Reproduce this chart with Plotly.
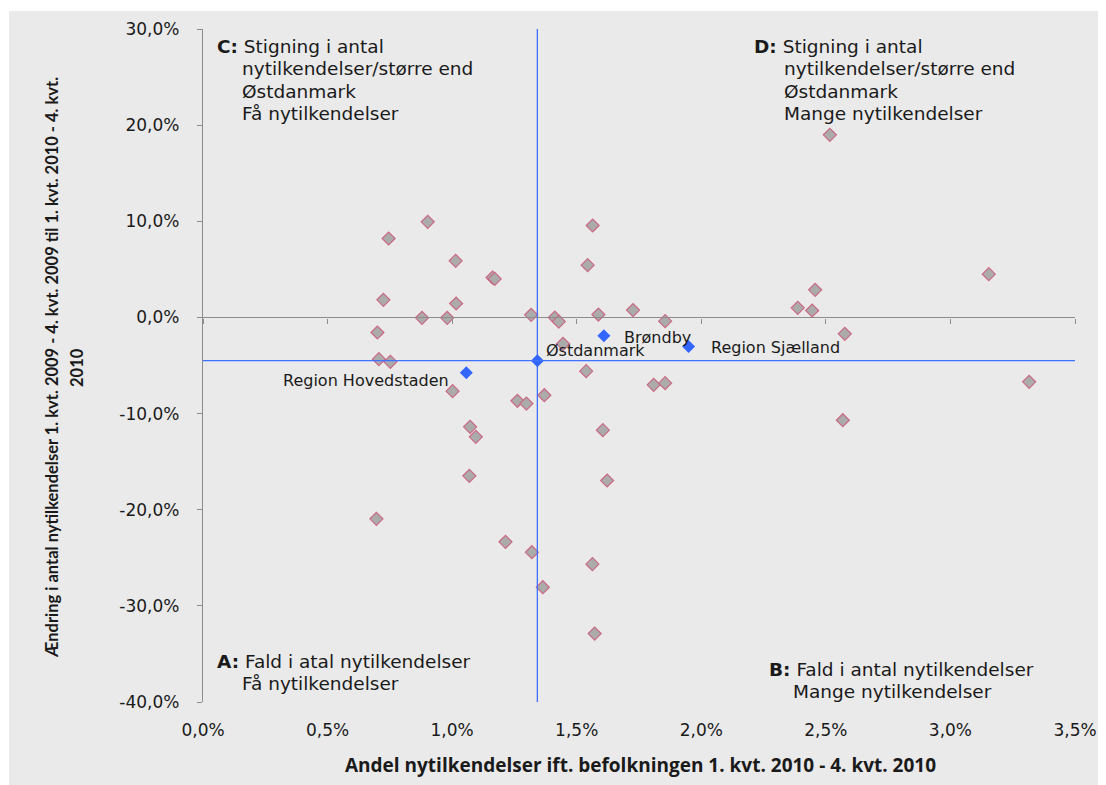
import plotly.graph_objects as go

# ---------------- data ----------------
x_tick_vals = [0.0, 0.5, 1.0, 1.5, 2.0, 2.5, 3.0, 3.5]
x_tick_text = ["0,0%", "0,5%", "1,0%", "1,5%", "2,0%", "2,5%", "3,0%", "3,5%"]
y_tick_vals = [-40, -30, -20, -10, 0, 10, 20, 30]
y_tick_text = ["-40,0%", "-30,0%", "-20,0%", "-10,0%", "0,0%", "10,0%", "20,0%", "30,0%"]

# kommuner: andel nytilkendelser (%) and ændring (%)
kommune_andel = [0.902, 0.745, 1.014, 1.162, 1.171, 0.724, 1.016, 0.879, 0.980, 1.317,
                 1.412, 1.428, 1.587, 1.726, 1.564, 1.544, 0.700, 0.706, 0.752, 1.445,
                 1.002, 1.262, 1.298, 1.370, 1.538, 1.072, 1.095, 1.605, 1.069, 0.696,
                 1.214, 1.320, 1.364, 1.563, 1.572, 1.622, 2.516, 1.855, 2.387, 2.445,
                 2.457, 2.576, 1.809, 1.855, 3.154, 3.316, 2.568]
kommune_aendring = [9.94, 8.21, 5.89, 4.15, 4.01, 1.83, 1.45, -0.04, -0.04, 0.27,
                    -0.01, -0.43, 0.30, 0.76, 9.56, 5.44, -1.57, -4.34, -4.62, -2.75,
                    -7.67, -8.67, -8.96, -8.09, -5.59, -11.38, -12.42, -11.73, -16.48, -20.95,
                    -23.34, -24.42, -28.06, -25.66, -32.88, -16.96, 18.99, -0.39, 1.00, 0.72,
                    2.87, -1.71, -7.01, -6.84, 4.50, -6.70, -10.69]

region_navne = ["Østdanmark", "Region Hovedstaden", "Brøndby", "Region Sjælland"]
region_andel = [1.342, 1.057, 1.609, 1.949]
region_aendring = [-4.50, -5.76, -1.91, -3.03]

x_title = "Andel nytilkendelser ift. befolkningen 1. kvt. 2010 - 4. kvt. 2010"
y_title_1 = "Ændring i antal nytilkendelser 1. kvt. 2009 - 4. kvt. 2009 til 1. kvt. 2010 - 4. kvt."
y_title_2 = "2010"

quad_C = ["C:", "Stigning i antal", "nytilkendelser/større end", "Østdanmark", "Få nytilkendelser"]
quad_D = ["D:", "Stigning i antal", "nytilkendelser/større end", "Østdanmark", "Mange nytilkendelser"]
quad_A = ["A:", "Fald i atal nytilkendelser", "Få nytilkendelser"]
quad_B = ["B:", "Fald i antal nytilkendelser", "Mange nytilkendelser"]

# ---------------- layout geometry / style ----------------
W, H = 1106, 785
OFF = 8                      # page body margin
L, R, T, B = 203, 1075, 29, 702   # plot area in page pixels
ML, MR, MT, MB = L - OFF, W - (R - OFF), T - OFF, H - (B - OFF)

BG = "#EAEAEA"
AXIS = "#8C8C8C"
TXT = "#1A1A1A"
GRAY_FILL = "#ABABAB"
PINK = "#CB6A85"
BLUE_LINE = "#4070FF"
BLUE_MARK = "#3366FF"
TICK_FONT = dict(family="DejaVu Sans", size=17, color=TXT)
LABEL_FONT = dict(family="DejaVu Sans", size=16, color=TXT)
QUAD_FONT = "DejaVu Sans"
QUAD_SIZE = 18.5


def px_x(px):
    return (px - L) / (R - L)


def px_y(py):
    return (B - py) / (B - T)


x_lo, x_hi = x_tick_vals[0], x_tick_vals[-1]
y_lo, y_hi = y_tick_vals[0], y_tick_vals[-1]
ost_x, ost_y = region_andel[0], region_aendring[0]

fig = go.Figure()

# gray kommune markers
fig.add_trace(go.Scatter(
    x=kommune_andel, y=kommune_aendring, mode="markers",
    marker=dict(symbol="diamond", size=10, color=GRAY_FILL,
                line=dict(color=PINK, width=1.2)),
    showlegend=False, hoverinfo="x+y"))

# reference lines through Østdanmark
fig.add_trace(go.Scatter(
    x=[x_lo, x_hi], y=[ost_y, ost_y], mode="lines", xaxis="x2",
    line=dict(color=BLUE_LINE, width=1.3), showlegend=False, hoverinfo="skip"))
fig.add_trace(go.Scatter(
    x=[ost_x, ost_x], y=[y_lo, y_hi], mode="lines",
    line=dict(color=BLUE_LINE, width=1.3), showlegend=False, hoverinfo="skip"))

# blue region markers
fig.add_trace(go.Scatter(
    x=region_andel, y=region_aendring, mode="markers",
    marker=dict(symbol="diamond", size=10, color=BLUE_MARK, line=dict(width=0)),
    text=region_navne, showlegend=False, hoverinfo="text+x+y"))

annotations = []

# data labels
label_style = {
    "Østdanmark": dict(xanchor="left", xshift=7, yshift=10),
    "Region Hovedstaden": dict(xanchor="right", xshift=-15, yshift=-8),
    "Brøndby": dict(xanchor="left", xshift=18, yshift=-2),
    "Region Sjælland": dict(xanchor="left", xshift=20, yshift=-1),
}
for name, xv, yv in zip(region_navne, region_andel, region_aendring):
    st = label_style[name]
    annotations.append(dict(x=xv, y=yv, xref="x", yref="y", text=name, showarrow=False,
                            font=LABEL_FONT, yanchor="middle", **st))


def quad_block(lines, x_head, x_indent, y_first, step=22.2, size=QUAD_SIZE):
    out = [dict(x=px_x(x_head), y=px_y(y_first), xref="paper", yref="paper",
                text="<b>" + lines[0] + "</b> " + lines[1], showarrow=False,
                xanchor="left", yanchor="middle", borderpad=0, borderwidth=0,
                font=dict(family=QUAD_FONT, size=size, color=TXT))]
    for i, ln in enumerate(lines[2:]):
        out.append(dict(x=px_x(x_indent), y=px_y(y_first + step * (i + 1)),
                        xref="paper", yref="paper", text=ln, showarrow=False,
                        xanchor="left", yanchor="middle", borderpad=0, borderwidth=0,
                        font=dict(family=QUAD_FONT, size=size, color=TXT)))
    return out


annotations += quad_block(quad_C, 217, 242, 46.7)
annotations += quad_block(quad_D, 754, 784, 46.7)
annotations += quad_block(quad_A, 217, 242, 661.7)
annotations += quad_block(quad_B, 769, 793, 669.3)

# axis titles
annotations.append(dict(x=px_x(640), y=px_y(765), xref="paper", yref="paper",
                        text="<b>" + x_title + "</b>", showarrow=False,
                        xanchor="center", yanchor="middle",
                        font=dict(family="Open Sans", size=19, color=TXT)))
annotations.append(dict(x=px_x(52), y=px_y(368), xref="paper", yref="paper",
                        text="<b>" + y_title_1 + "</b>", showarrow=False, textangle=-90,
                        xanchor="center", yanchor="middle",
                        font=dict(family="Lato", size=16.5, color=TXT)))
annotations.append(dict(x=px_x(77), y=px_y(368), xref="paper", yref="paper",
                        text="<b>" + y_title_2 + "</b>", showarrow=False, textangle=-90,
                        xanchor="center", yanchor="middle",
                        font=dict(family="Lato", size=16.5, color=TXT)))

# thin white edge strips (page px 0-9 left, 0-11 top)
shapes = [
    dict(type="rect", xref="paper", yref="paper", x0=px_x(0), x1=px_x(9),
         y0=px_y(H + 20), y1=px_y(0), fillcolor="white", line=dict(width=0), layer="above"),
    dict(type="rect", xref="paper", yref="paper", x0=px_x(0), x1=px_x(W + 20),
         y0=px_y(11), y1=px_y(0), fillcolor="white", line=dict(width=0), layer="above"),
]

fig.update_layout(
    width=W, height=H,
    margin=dict(l=ML, r=MR, t=MT, b=MB, pad=0),
    paper_bgcolor=BG, plot_bgcolor=BG,
    showlegend=False,
    annotations=annotations,
    shapes=shapes,
    xaxis=dict(range=[x_lo, x_hi], tickmode="array", tickvals=x_tick_vals, ticktext=x_tick_text,
               showline=False, ticks="", showgrid=False, zeroline=False,
               tickfont=TICK_FONT, ticklabelstandoff=16, fixedrange=True),
    xaxis2=dict(range=[x_lo, x_hi], overlaying="x", anchor="free",
                position=(0 - y_lo) / (y_hi - y_lo),
                tickmode="array", tickvals=x_tick_vals, showticklabels=False,
                ticks="outside", ticklen=5, tickcolor=AXIS, tickwidth=1.3,
                showline=True, linecolor=AXIS, linewidth=1.3,
                showgrid=False, zeroline=False, fixedrange=True),
    yaxis=dict(range=[y_lo, y_hi], tickmode="array", tickvals=y_tick_vals, ticktext=y_tick_text,
               showline=True, linecolor=AXIS, linewidth=1.3,
               ticks="outside", ticklen=5, tickcolor=AXIS, tickwidth=1.3,
               showgrid=False, zeroline=False, tickfont=TICK_FONT,
               ticklabelstandoff=14, fixedrange=True),
)

fig.write_html("out.html")
